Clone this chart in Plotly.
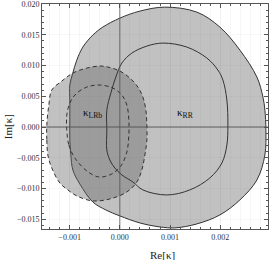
import plotly.graph_objects as go

# Boundary points (units of 1e-3)
rr95_re = [-0.996, -0.996, -0.976, -0.936, -0.797, -0.538, -0.279, 0.0, 0.398, 0.797, 1.096, 1.534,
           1.992, 2.390, 2.729, 2.888, 2.908, 2.888, 2.849, 2.729, 2.390, 1.992, 1.534, 0.896,
           0.398, 0.0, -0.339, -0.538, -0.737, -0.857, -0.936, -0.996, -0.996, -0.996]
rr95_im = [1.14, -2.11, -4.55, -6.99, -9.27, -12.20, -13.50, -14.47, -15.61, -16.26, -16.42, -15.77,
           -14.31, -11.87, -8.62, -4.55, -0.49, 2.76, 4.88, 8.13, 12.52, 16.26, 18.70, 19.51,
           18.86, 17.72, 16.26, 14.96, 13.01, 10.89, 8.78, 6.83, 4.39, 1.14]

rr68_re = [-0.259, -0.259, -0.199, -0.100, 0.040, 0.259, 0.458, 0.936, 1.394, 1.793, 2.032, 2.131,
           2.151, 2.131, 2.052, 1.952, 1.733, 1.335, 0.857, 0.538, 0.239, 0.040, -0.080, -0.179,
           -0.259, -0.259]
rr68_im = [-0.49, -3.74, -5.37, -6.67, -7.80, -8.94, -10.24, -11.06, -10.24, -8.29, -5.85, -2.93,
           0.33, 4.39, 7.64, 9.27, 11.22, 13.01, 13.66, 13.17, 12.03, 10.41, 8.13, 5.53,
           2.76, -0.49]

lrb95_re = [-1.454, -1.454, -1.434, -1.355, -1.195, -1.036, -0.857, -0.538, -0.199, 0.139, 0.339,
            0.438, 0.498, 0.538, 0.538, 0.518, 0.458, 0.359, 0.199, 0.0, -0.239, -0.398, -0.657,
            -0.936, -1.155, -1.355, -1.414, -1.454]
lrb95_im = [0.33, -2.11, -4.55, -6.67, -9.11, -10.24, -11.22, -12.03, -11.71, -10.57, -8.94,
            -6.99, -4.55, -2.11, 0.33, 2.76, 4.88, 6.50, 7.97, 9.11, 9.76, 9.92, 9.59,
            8.78, 7.48, 6.02, 3.58, 0.33]

lrb68_re = [-1.056, -1.016, -0.896, -0.657, -0.418, -0.159, 0.020, 0.139, 0.179, 0.179, 0.139,
            0.040, -0.139, -0.398, -0.657, -0.876, -0.996, -1.056, -1.056]
lrb68_im = [-0.49, -2.93, -5.04, -7.15, -8.13, -7.64, -6.34, -4.07, -1.30, 1.14, 3.58,
            5.20, 6.34, 6.83, 6.50, 5.37, 3.90, 1.95, -0.49]

x_ticks = [-0.001, 0.000, 0.001, 0.002]
x_labels = ["\u22120.001", "0.000", "0.001", "0.002"]
y_ticks = [-0.015, -0.010, -0.005, 0.000, 0.005, 0.010, 0.015, 0.020]
y_labels = ["\u22120.015", "\u22120.010", "\u22120.005", "0.000", "0.005", "0.010", "0.015", "0.020"]

label_names = ["\u03ba<sub>LRb</sub>", "\u03ba<sub>RR</sub>"]
label_re = [-0.00054, 0.00130]
label_im = [0.00228, 0.00228]

S = 1e-3
def sc(v):
    return [a * S for a in v]

FILL = "rgba(100,100,100,0.40)"
LINE = "#333333"

fig = go.Figure()
fig.add_trace(go.Scatter(x=sc(rr95_re), y=sc(rr95_im), mode="lines", fill="toself",
                         fillcolor=FILL, line=dict(color=LINE, width=1, shape="spline", smoothing=1.0),
                         hoverinfo="skip", showlegend=False))
fig.add_trace(go.Scatter(x=sc(lrb95_re), y=sc(lrb95_im), mode="lines", fill="toself",
                         fillcolor=FILL, line=dict(color=LINE, width=1, dash="4px,3px", shape="spline", smoothing=1.0),
                         hoverinfo="skip", showlegend=False))
fig.add_trace(go.Scatter(x=sc(rr68_re), y=sc(rr68_im), mode="lines",
                         line=dict(color=LINE, width=1, shape="spline", smoothing=1.0),
                         hoverinfo="skip", showlegend=False))
fig.add_trace(go.Scatter(x=sc(lrb68_re), y=sc(lrb68_im), mode="lines",
                         line=dict(color=LINE, width=1, dash="4px,3px", shape="spline", smoothing=1.0),
                         hoverinfo="skip", showlegend=False))

XR = [-0.00155, 0.00295]
YR = [-0.0166, 0.02002]
# axis lines through origin
fig.add_shape(type="line", x0=0, x1=0, y0=YR[0], y1=YR[1], line=dict(color="rgba(80,80,80,0.75)", width=1), layer="above")
fig.add_shape(type="line", x0=XR[0], x1=XR[1], y0=0, y1=0, line=dict(color="rgba(80,80,80,0.6)", width=1.5), layer="above")

for name, xr, yi in zip(label_names, label_re, label_im):
    fig.add_annotation(x=xr, y=yi, text=name, showarrow=False,
                       font=dict(family="Liberation Serif", size=11, color="#111"))

fig.add_annotation(xref="paper", yref="paper", x=0.531, y=-0.116, text="Re[\u03ba]", showarrow=False,
                   xanchor="center", yanchor="middle",
                   font=dict(family="Liberation Serif", size=11, color="#222"))
fig.add_annotation(xref="paper", yref="paper", x=-0.150, y=0.453, text="Im[\u03ba]", showarrow=False,
                   xanchor="center", yanchor="middle",
                   textangle=-90, font=dict(family="Liberation Serif", size=11, color="#222"))

axis_common = dict(showline=True, linecolor="#555", linewidth=1, mirror="ticks",
                   ticks="inside", ticklen=4, tickcolor="#555", tickwidth=1, automargin=False,
                   ticklabeloverflow="allow",
                   zeroline=False, tickfont=dict(family="Liberation Serif", size=8, color="#333"),
                   showgrid=True, gridcolor="rgba(0,0,0,0.03)", gridwidth=1)

fig.update_xaxes(range=XR, tickvals=x_ticks, ticktext=x_labels,
                 minor=dict(dtick=0.0002, tick0=0, ticks="inside", ticklen=2, tickcolor="#555",
                            showgrid=True, gridcolor="rgba(0,0,0,0.03)"),
                 **axis_common)
fig.update_yaxes(range=YR, tickvals=y_ticks, ticktext=y_labels,
                 minor=dict(dtick=0.001, tick0=0, ticks="inside", ticklen=2, tickcolor="#555",
                            showgrid=False),
                 **axis_common)

fig.update_layout(width=271, height=260, margin=dict(l=42, r=3, t=4, b=31, autoexpand=False),
                  plot_bgcolor="white", paper_bgcolor="white", showlegend=False)

fig.write_html("out.html", config={"displayModeBar": False},
               post_script="document.body.style.margin='0';")
